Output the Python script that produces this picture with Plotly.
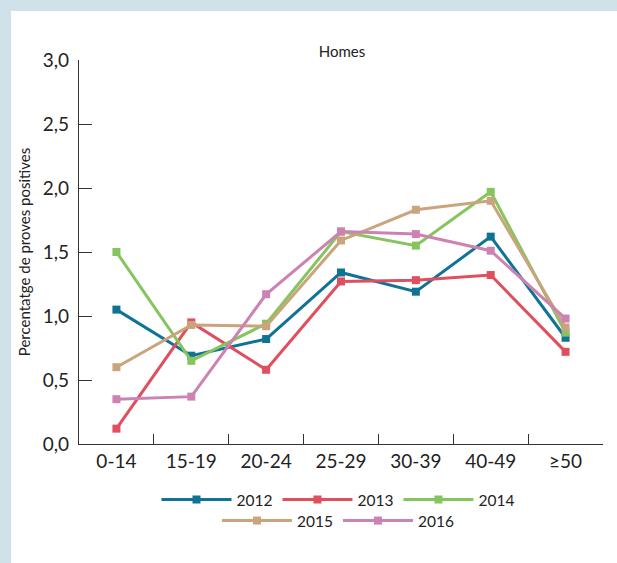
import plotly.graph_objects as go

categories = ["0-14", "15-19", "20-24", "25-29", "30-39", "40-49", "≥50"]
years = ["2012", "2013", "2014", "2015", "2016"]
v2012 = [1.05, 0.69, 0.82, 1.34, 1.19, 1.62, 0.83]
v2013 = [0.12, 0.95, 0.58, 1.27, 1.28, 1.32, 0.72]
v2014 = [1.50, 0.65, 0.94, 1.66, 1.55, 1.97, 0.87]
v2015 = [0.60, 0.93, 0.92, 1.59, 1.83, 1.90, 0.91]
v2016 = [0.35, 0.37, 1.17, 1.66, 1.64, 1.51, 0.98]
y_ticks = [0, 0.5, 1.0, 1.5, 2.0, 2.5, 3.0]
y_tick_labels = ["0,0", "0,5", "1,0", "1,5", "2,0", "2,5", "3,0"]
title = "Homes"
y_title = "Percentatge de proves positives"

colors = ["#0f7396", "#e04f5d", "#86c55e", "#c9a47c", "#cc82b2"]
series = [v2012, v2013, v2014, v2015, v2016]
legend_ids = ["legend", "legend", "legend", "legend2", "legend2"]

FONT = "Lato"
TXT = "#222222"
W, H = 617, 563
L, R, T, B = 79, 14, 60, 119
pw, ph = W - L - R, H - T - B


def px_x(p):
    return (p - L) / pw


def px_y(p):
    return (H - B - p) / ph


fig = go.Figure()
for name, vals, c, lg in zip(years, series, colors, legend_ids):
    fig.add_trace(go.Scatter(
        x=categories, y=vals, name=name, mode="lines+markers",
        line=dict(color=c, width=3),
        marker=dict(symbol="square", size=8, color=c),
        legend=lg,
    ))

fig.add_shape(type="rect", xref="paper", yref="paper",
              x0=px_x(11), x1=px_x(W + 5), y0=px_y(11), y1=px_y(H + 5),
              fillcolor="white", line=dict(width=0), layer="below")

legend_common = dict(orientation="h", xanchor="center", yanchor="middle",
                     itemwidth=70, bgcolor="rgba(0,0,0,0)",
                     font=dict(size=15.5, family=FONT, color=TXT))

fig.update_layout(
    width=W, height=H,
    margin=dict(l=L, r=R, t=T, b=B, pad=0),
    paper_bgcolor="#cfe2ea",
    plot_bgcolor="rgba(0,0,0,0)",
    font=dict(family=FONT, color=TXT),
    title=dict(text=title, x=342 / W, xanchor="center", y=1 - 52 / H,
               yanchor="middle", font=dict(size=15, family=FONT, color=TXT)),
    showlegend=True,
    legend=dict(x=px_x(338), y=px_y(500), **legend_common),
    legend2=dict(x=px_x(338), y=px_y(521), **legend_common),
)
fig.update_xaxes(
    type="category", range=[-0.5, 6.5],
    showline=True, linecolor="#333333", linewidth=1.3,
    ticks="inside", tickson="boundaries", ticklen=10, tickcolor="#333333",
    tickwidth=1, showgrid=False, zeroline=False,
    tickfont=dict(size=19, family=FONT, color=TXT),
)
fig.update_yaxes(
    range=[0, 3], tickvals=y_ticks, ticktext=y_tick_labels,
    showline=True, linecolor="#333333", linewidth=1.3,
    ticks="inside", ticklen=13, tickcolor="#333333", tickwidth=1,
    ticklabelstandoff=5,
    showgrid=False, zeroline=False,
    tickfont=dict(size=19, family=FONT, color=TXT),
    title=dict(text=y_title, font=dict(size=15, family=FONT, color=TXT), standoff=8),
)

fig.write_html("out.html", config={"displayModeBar": False},
               post_script="document.body.style.margin='0';document.body.style.overflow='hidden';")
